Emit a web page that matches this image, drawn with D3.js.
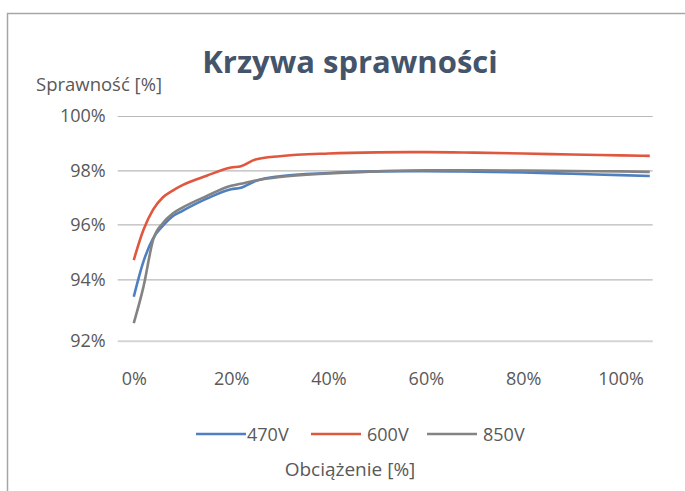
<!DOCTYPE html>
<html>
<head>
<meta charset="utf-8">
<script src="https://cdn.jsdelivr.net/npm/d3@7"></script>
<style>
  body { margin: 0; background: #fff; }
  text { font-family: "Open Sans", sans-serif; }
</style>
</head>
<body>
<script>
//== SVG AREA ==//
const width = 685;
const height = 491;

const svg = d3.select("body")
  .append("svg")
  .attr("width", width)
  .attr("height", height);

//== DATA ==//
const load = [0, 2, 4, 6, 8, 10, 15, 20, 22, 25, 30, 40, 50, 60, 70, 80, 90, 100, 106];
const eff470 = [93.43, 94.65, 95.5, 95.95, 96.3, 96.5, 96.95, 97.3, 97.35, 97.6, 97.78, 97.9, 97.96, 97.97, 97.95, 97.92, 97.87, 97.82, 97.79];
const eff600 = [94.7, 95.8, 96.55, 97.0, 97.25, 97.45, 97.8, 98.1, 98.15, 98.4, 98.52, 98.62, 98.66, 98.67, 98.65, 98.62, 98.58, 98.55, 98.53];
const eff850 = [92.57, 93.76, 95.45, 96.05, 96.4, 96.62, 97.05, 97.43, 97.5, 97.62, 97.75, 97.88, 97.96, 98.0, 98.0, 97.99, 97.97, 97.96, 97.94];
const seriesNames = ["470V", "600V", "850V"];
const seriesColors = ["#4e7fc1", "#e0573f", "#838383"];
const yTicks = [92, 94, 96, 98, 100];
const xTicks = [0, 20, 40, 60, 80, 100];

const series = [eff470, eff600, eff850].map((vals, i) => ({
  name: seriesNames[i],
  color: seriesColors[i],
  values: load.map((l, j) => ({ x: l, y: vals[j] }))
}));

//== FRAME ==//
svg.append("rect")
  .attr("x", 7.5).attr("y", 13.5)
  .attr("width", 700).attr("height", 500)
  .attr("fill", "none")
  .attr("stroke", "#a6a6a6")
  .attr("stroke-width", 1.5);

//== SCALES ==//
const x = d3.scaleLinear()
  .domain([-3.3, 106.6])
  .range([117.7, 652.7]);

// gridlines in the picture are not evenly spaced, so map each tick
const y = d3.scaleLinear()
  .domain(yTicks)
  .range([340.7, 279.3, 224.3, 170.3, 116]);

//== GRID + Y LABELS ==//
const yAxis = d3.axisLeft(y)
  .tickValues(yTicks)
  .tickSize(-(x.range()[1] - x.range()[0]))
  .tickPadding(12)
  .tickFormat(d => d + "%");

const gy = svg.append("g")
  .attr("transform", `translate(${x.range()[0]},0)`)
  .call(yAxis);
gy.select(".domain").remove();
gy.selectAll(".tick line")
  .attr("stroke", d => d === 92 ? "#d4d4d4" : "#b9b9b9")
  .attr("stroke-width", d => d === 92 ? 2 : 1.2);
gy.selectAll(".tick text")
  .attr("fill", "#595959")
  .style("font-size", "18px")
  .style("font-family", "'Open Sans', sans-serif");

//== X LABELS ==//
const xAxis = d3.axisBottom(x)
  .tickValues(xTicks)
  .tickSize(0)
  .tickPadding(0)
  .tickFormat(d => d + "%");

const gx = svg.append("g")
  .attr("transform", "translate(0,372)")
  .call(xAxis);
gx.select(".domain").remove();
gx.selectAll(".tick text")
  .attr("fill", "#595959")
  .style("font-size", "18px")
  .style("font-family", "'Open Sans', sans-serif");

//== LINES ==//
const line = d3.line()
  .x(d => x(d.x))
  .y(d => y(d.y))
  .curve(d3.curveMonotoneX);

// draw grey last so it sits on top like in the original
svg.append("g")
  .selectAll("path")
  .data(series)
  .enter()
  .append("path")
  .attr("fill", "none")
  .attr("stroke", d => d.color)
  .attr("stroke-width", 2.6)
  .attr("stroke-linejoin", "round")
  .attr("d", d => line(d.values));

//== TITLE ==//
svg.append("text")
  .attr("x", 350)
  .attr("y", 73)
  .attr("text-anchor", "middle")
  .attr("fill", "#44546a")
  .style("font-size", "31px")
  .style("font-weight", "bold")
  .text("Krzywa sprawności");

svg.append("text")
  .attr("x", 36)
  .attr("y", 91)
  .attr("fill", "#595959")
  .style("font-size", "18.5px")
  .text("Sprawność [%]");

svg.append("text")
  .attr("x", 350)
  .attr("y", 476)
  .attr("text-anchor", "middle")
  .attr("fill", "#595959")
  .style("font-size", "19px")
  .text("Obciążenie [%]");

//== LEGEND ==//
const legendX = [196, 311, 427];
const legend = svg.append("g")
  .selectAll("g")
  .data(series)
  .enter()
  .append("g")
  .attr("transform", (d, i) => `translate(${legendX[i]},434)`);

legend.append("line")
  .attr("x1", 0).attr("x2", 50)
  .attr("stroke", d => d.color)
  .attr("stroke-width", 2.6);

legend.append("text")
  .attr("x", (d, i) => i === 0 ? 51 : 56)
  .attr("y", 6.5)
  .attr("fill", "#595959")
  .style("font-size", "18px")
  .text(d => d.name);
</script>
</body>
</html>
